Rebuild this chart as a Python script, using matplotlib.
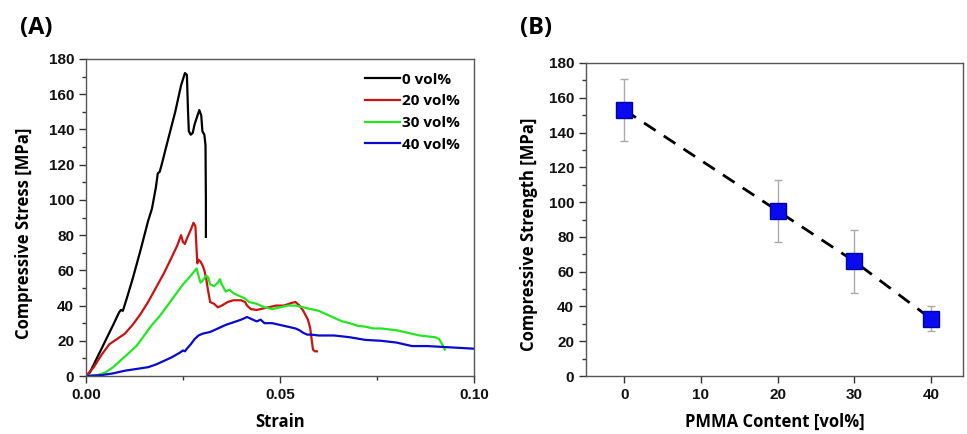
import matplotlib
matplotlib.use("Agg")
import matplotlib.pyplot as plt
from matplotlib.ticker import MultipleLocator, FixedLocator

# ---------------- data: panel A ----------------
strain_0 = [0, 0.001, 0.003, 0.005, 0.007, 0.0085, 0.009, 0.0095, 0.0105, 0.012, 0.014, 0.016, 0.017, 0.018,
            0.0185, 0.019, 0.0195, 0.021, 0.023, 0.0245, 0.0255, 0.026, 0.0263, 0.0265, 0.027, 0.0275, 0.028,
            0.0292, 0.0297, 0.030, 0.0305, 0.0308, 0.0309, 0.0309]
stress_0 = [0, 2, 11, 20, 29, 36, 37.5, 37, 44, 55, 71, 88, 95, 107,
            115, 116, 120, 133, 150, 165, 172, 171, 150, 139, 137, 138, 143,
            151, 148, 139, 137, 131, 100, 79]

strain_20 = [0, 0.002, 0.004, 0.006, 0.008, 0.010, 0.012, 0.014, 0.016, 0.018, 0.020, 0.022, 0.0235, 0.0245,
             0.025, 0.0255, 0.026, 0.027, 0.0277, 0.0282, 0.0285, 0.0287, 0.029, 0.0295, 0.030, 0.0305, 0.031,
             0.0315, 0.032, 0.033, 0.034, 0.035, 0.0365, 0.038, 0.040, 0.041, 0.0415, 0.0425, 0.044, 0.045,
             0.047, 0.049, 0.051, 0.053, 0.054, 0.055, 0.056, 0.0572, 0.0578, 0.0582, 0.0585, 0.059, 0.0595]
stress_20 = [0, 5, 12, 18, 21, 24, 29, 35, 42, 50, 58, 67, 74, 80,
             76, 75, 78, 83, 87, 85, 72, 64, 66, 65, 63, 60, 55,
             48, 42, 41, 39, 40, 42, 43, 43, 42, 40, 38, 37.5, 38,
             39, 40, 40, 41.5, 42, 40, 37, 32, 27, 20, 15, 14, 14]

strain_30 = [0, 0.003, 0.005, 0.007, 0.009, 0.011, 0.013, 0.015, 0.017, 0.019, 0.021, 0.023, 0.025, 0.027,
             0.0285, 0.029, 0.0295, 0.030, 0.031, 0.0315, 0.032, 0.033, 0.034, 0.0345, 0.035, 0.036, 0.037,
             0.038, 0.039, 0.040, 0.041, 0.042, 0.044, 0.046, 0.048, 0.050, 0.052, 0.054, 0.056, 0.058, 0.060,
             0.062, 0.064, 0.066, 0.068, 0.070, 0.072, 0.074, 0.076, 0.078, 0.080, 0.082, 0.084, 0.086, 0.088,
             0.090, 0.091, 0.0918, 0.0925]
stress_30 = [0, 0.5, 2, 5, 9, 13, 17, 23, 29, 34, 40, 46, 52, 57,
             61, 57, 53, 54, 57, 56, 52, 51, 53, 55, 52, 48, 49,
             47, 46, 45, 44, 42, 41, 39, 38, 39, 40, 40, 39, 38, 37,
             35, 33, 31, 30, 28.5, 28, 27, 27, 26.5, 26, 25, 24, 23, 22.5,
             22, 21, 18, 15]

strain_40 = [0, 0.004, 0.007, 0.010, 0.013, 0.016, 0.018, 0.020, 0.022, 0.024, 0.025, 0.0255, 0.026, 0.027,
             0.028, 0.029, 0.030, 0.032, 0.034, 0.036, 0.038, 0.040, 0.0415, 0.042, 0.043, 0.044, 0.045,
             0.046, 0.048, 0.050, 0.052, 0.054, 0.055, 0.056, 0.057, 0.058, 0.060, 0.064, 0.068, 0.072,
             0.076, 0.080, 0.082, 0.084, 0.088, 0.092, 0.096, 0.100]
stress_40 = [0, 0.5, 1.5, 3, 4, 5, 6.5, 8.5, 10.5, 13, 14.5, 14, 15.5, 18,
             21, 23, 24, 25, 27, 29, 30.5, 32, 33.5, 33, 32, 31, 32,
             30, 30, 29, 28, 27, 26, 24.5, 23.5, 23.5, 23, 23, 22, 20.5,
             20, 19, 18, 17, 17, 16.5, 16, 15.5]

labels_a = ["0 vol%", "20 vol%", "30 vol%", "40 vol%"]
colors_a = ["#000000", "#cc1111", "#22e622", "#0a0acc"]

# ---------------- data: panel B ----------------
pmma_content = [0, 20, 30, 40]
strength = [153, 95, 66, 33]
strength_err = [18, 18, 18, 7]

W, H = 967, 434
fig = plt.figure(figsize=(W / 100, H / 100), dpi=100)

tick_font = {"family": ["Liberation Sans", "DejaVu Sans"], "weight": "bold", "size": 11}
label_font = {"family": ["Open Sans", "DejaVu Sans"], "weight": "bold", "size": 12}
spine_col = "#555555"


def style_axes(ax):
    for s in ax.spines.values():
        s.set_color(spine_col)
        s.set_linewidth(1.0)
    ax.tick_params(which="both", direction="out", colors="#333333", width=1.0)
    ax.tick_params(which="major", length=5)
    ax.tick_params(which="minor", length=3)
    ax.tick_params(top=False, right=False)
    for lab in ax.get_xticklabels() + ax.get_yticklabels():
        lab.set_fontfamily(tick_font["family"])
        lab.set_fontweight("bold")
        lab.set_fontsize(tick_font["size"])
        lab.set_color("#111111")


# Panel A
axA = fig.add_axes([86 / W, 1 - 376 / H, (474 - 86) / W, (376 - 59) / H])
for xs, ys, lab, col in zip([strain_0, strain_20, strain_30, strain_40],
                            [stress_0, stress_20, stress_30, stress_40], labels_a, colors_a):
    axA.plot(xs, ys, color=col, lw=1.6, label=lab)
axA.set_xlim(0, 0.1)
axA.set_ylim(0, 180)
axA.xaxis.set_major_locator(FixedLocator([0, 0.05, 0.1]))
axA.set_xticklabels(["0.00", "0.05", "0.10"])
axA.xaxis.set_minor_locator(MultipleLocator(0.025))
axA.yaxis.set_major_locator(MultipleLocator(20))
axA.yaxis.set_minor_locator(MultipleLocator(10))
axA.set_xlabel("Strain", fontdict=label_font, labelpad=8)
axA.set_ylabel("Compressive Stress [MPa]", fontdict=label_font)
axA.yaxis.set_label_coords(-0.137, 0.45)
style_axes(axA)
leg = axA.legend(loc="upper right", frameon=False, handlelength=2.3, handletextpad=0.15,
                 labelspacing=0.5, borderaxespad=0.5,
                 prop={"family": ["Open Sans", "DejaVu Sans"], "weight": "bold", "size": 11})

# Panel B
axB = fig.add_axes([586 / W, 1 - 376 / H, (963 - 586) / W, (376 - 63) / H])
axB.errorbar(pmma_content, strength, yerr=strength_err, fmt="none", ecolor="#aaaaaa",
             elinewidth=1.0, capsize=3, capthick=1.0, zorder=2)
axB.plot(pmma_content, strength, color="black", lw=2.0, ls=(0, (5, 3.5)), zorder=3)
axB.plot(pmma_content, strength, ls="none", marker="s", markersize=11,
         markerfacecolor="#0a0aee", markeredgecolor="#0000aa", markeredgewidth=1.0, zorder=4)
axB.set_xlim(-5, 44.2)
axB.set_ylim(0, 180)
axB.xaxis.set_major_locator(FixedLocator([0, 10, 20, 30, 40]))
axB.yaxis.set_major_locator(MultipleLocator(20))
axB.yaxis.set_minor_locator(MultipleLocator(10))
axB.set_xlabel("PMMA Content [vol%]", fontdict=label_font, labelpad=8)
axB.set_ylabel("Compressive Strength [MPa]", fontdict=label_font)
axB.yaxis.set_label_coords(-0.127, 0.454)
style_axes(axB)

fig.text(20 / W, 1 - 28 / H, "(A)", fontsize=17, fontweight="bold",
         family=["Open Sans", "DejaVu Sans"], va="center", ha="left")
fig.text(520 / W, 1 - 28 / H, "(B)", fontsize=17, fontweight="bold",
         family=["Open Sans", "DejaVu Sans"], va="center", ha="left")

fig.savefig("out.png", dpi=100)
